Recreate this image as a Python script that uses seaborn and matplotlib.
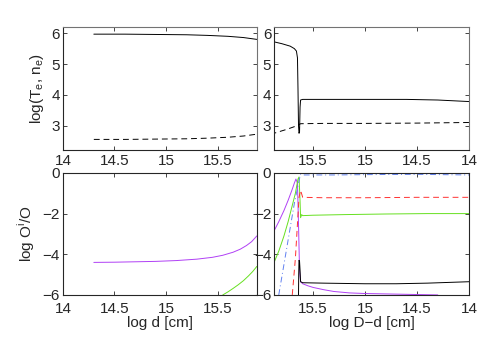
import numpy as np
import pandas as pd
import matplotlib
matplotlib.use("Agg")
import matplotlib.pyplot as plt
import seaborn as sns

# --- datos ---
# panel superior izquierdo: log d
d_top = [14.3, 14.6, 14.9, 15.2, 15.4, 15.6, 15.75, 15.88]
Te_left = [5.97, 5.97, 5.96, 5.95, 5.93, 5.9, 5.86, 5.8]
ne_left = [2.55, 2.55, 2.56, 2.57, 2.59, 2.62, 2.66, 2.72]

# panel superior derecho: log D-d
Dd_top = [15.875, 15.8, 15.72, 15.68, 15.66, 15.65, 15.645, 15.64, 15.635, 15.63,
          15.625, 15.62, 15.6, 15.4, 15.0, 14.6, 14.3, 14.0]
Te_right = [5.72, 5.66, 5.58, 5.5, 5.42, 5.2, 4.2, 3.0, 2.75, 2.8,
            3.6, 3.83, 3.85, 3.85, 3.85, 3.85, 3.83, 3.78]
Dd_ne = [15.875, 15.75, 15.65, 15.62, 15.4, 15.0, 14.5, 14.0]
ne_right = [2.75, 2.88, 3.0, 3.06, 3.07, 3.07, 3.08, 3.1]

# panel inferior izquierdo
d_bot = [14.3, 14.5, 14.7, 14.9, 15.1, 15.3, 15.45, 15.55, 15.65, 15.72, 15.78, 15.83, 15.88]
O_neutral = [0.0] * 13
O_purple = [-4.4, -4.39, -4.37, -4.35, -4.31, -4.24, -4.15, -4.05, -3.9, -3.75, -3.57, -3.38, -3.1]
d_green = [15.55, 15.6, 15.65, 15.7, 15.75, 15.8, 15.84, 15.88]
O_green = [-6.0, -5.85, -5.68, -5.5, -5.3, -5.06, -4.85, -4.6]

# panel inferior derecho
Dd_purple = [15.875, 15.83, 15.78, 15.74, 15.7, 15.68, 15.665, 15.65, 15.64, 15.63, 15.62,
             15.6, 15.55, 15.5, 15.4, 15.3, 15.15, 15.0, 14.6, 14.3]
O_purple_r = [-2.85, -2.4, -1.85, -1.35, -0.8, -0.5, -0.3, -0.5, -2.5, -4.8, -5.35,
              -5.45, -5.55, -5.63, -5.74, -5.83, -5.9, -5.93, -5.97, -6.0]
Dd_green = [15.875, 15.83, 15.78, 15.74, 15.7, 15.67, 15.645, 15.635, 15.625, 15.62, 15.61,
            15.6, 15.5, 15.2, 14.8, 14.4, 14.0]
O_green_r = [-4.4, -3.85, -3.1, -2.4, -1.6, -1.0, -0.3, -0.2, -1.4, -2.2, -2.05,
             -2.1, -2.08, -2.05, -2.02, -2.0, -2.0]
Dd_blue = [15.83, 15.75, 15.68, 15.64, 15.62, 15.6, 15.3, 14.9, 14.5, 14.0]
O_blue = [-6.0, -3.6, -1.5, -0.5, -0.05, -0.1, -0.1, -0.08, -0.07, -0.1]
Dd_red = [15.7, 15.67, 15.65, 15.635, 15.62, 15.6, 15.4, 15.0, 14.5, 14.0]
O_red = [-6.0, -4.2, -2.5, -1.2, -0.85, -1.2, -1.22, -1.22, -1.2, -1.2]
Dd_black = [15.64, 15.638, 15.635, 15.63, 15.625, 15.62, 15.6, 15.4, 15.0, 14.7, 14.4, 14.0]
O_black = [-6.0, -5.0, -4.3, -4.35, -4.8, -5.35, -5.4, -5.42, -5.45, -5.45, -5.42, -5.35]
Dd_dot = [15.875, 15.4, 14.9, 14.4, 14.0]
O_dot = [0.0, 0.0, 0.0, 0.0, 0.0]

sns.set_style("ticks")
plt.rcParams["font.family"] = ["Liberation Sans", "DejaVu Sans"]
plt.rcParams["font.size"] = 10
plt.rcParams["xtick.direction"] = "in"
plt.rcParams["ytick.direction"] = "in"
plt.rcParams["xtick.top"] = True
plt.rcParams["ytick.right"] = True
plt.rcParams["axes.linewidth"] = 0.8

fig = plt.figure(figsize=(4.8, 3.61), dpi=100)
ax1 = fig.add_axes([0.131, 0.584, 0.404, 0.341])
ax2 = fig.add_axes([0.571, 0.584, 0.406, 0.341])
ax3 = fig.add_axes([0.131, 0.183, 0.404, 0.338])
ax4 = fig.add_axes([0.571, 0.183, 0.406, 0.338])

purple = "#b040f5"
green = "#66e020"
blue = "#6080f0"
red = "#ff3030"
lw = 0.7

sns.lineplot(x=d_top, y=Te_left, ax=ax1, color="k", lw=lw)
sns.lineplot(x=d_top, y=ne_left, ax=ax1, color="k", lw=lw, linestyle=(0, (6, 4)))

sns.lineplot(x=Dd_top, y=Te_right, ax=ax2, color="k", lw=lw, sort=False)
sns.lineplot(x=Dd_ne, y=ne_right, ax=ax2, color="k", lw=lw, linestyle=(0, (6, 4)))

sns.lineplot(x=d_bot, y=O_neutral, ax=ax3, color="0.6", lw=lw, linestyle=":")
sns.lineplot(x=d_bot, y=O_purple, ax=ax3, color=purple, lw=lw)
sns.lineplot(x=d_green, y=O_green, ax=ax3, color=green, lw=lw)

sns.lineplot(x=Dd_dot, y=O_dot, ax=ax4, color="0.6", lw=lw, linestyle=":")
sns.lineplot(x=Dd_purple, y=O_purple_r, ax=ax4, color=purple, lw=lw, sort=False)
sns.lineplot(x=Dd_green, y=O_green_r, ax=ax4, color=green, lw=lw, sort=False)
sns.lineplot(x=Dd_blue, y=O_blue, ax=ax4, color=blue, lw=lw, sort=False, linestyle=(0, (6, 3, 1, 3)))
sns.lineplot(x=Dd_red, y=O_red, ax=ax4, color=red, lw=lw, sort=False, linestyle=(0, (6, 4)))
sns.lineplot(x=Dd_black, y=O_black, ax=ax4, color="k", lw=lw, sort=False)

for ax in (ax1, ax3):
    ax.set_xlim(14, 15.88)
for ax in (ax2, ax4):
    ax.set_xlim(15.875, 14)
for ax in (ax1, ax2, ax3, ax4):
    ax.set_xticks([14, 14.5, 15, 15.5])
    ax.set_xticklabels(["14", "14.5", "15", "15.5"])
    ax.tick_params(length=3, width=0.6, labelsize=11, pad=2)
    ax.tick_params(axis="x", pad=3)
for ax in (ax1, ax2):
    ax.set_ylim(2.2, 6.2)
    ax.set_yticks([3, 4, 5, 6])
    for s in ("top", "right"):
        ax.spines[s].set_color("0.45")
for ax in (ax3, ax4):
    ax.set_ylim(-6, 0)
    ax.set_yticks([-6, -4, -2, 0])
    ax.set_yticklabels(["\u22126", "\u22124", "\u22122", "0"])
    ax.tick_params(axis="x", pad=5)

ax1.set_ylabel("log(T$_\\mathregular{e}$, n$_\\mathregular{e}$)", fontsize=11)
ax3.set_ylabel("log O$^\\mathregular{i}$/O", fontsize=11)
ax3.set_xlabel("log d [cm]", fontsize=11, labelpad=0)
ax4.set_xlabel("log D\u2212d [cm]", fontsize=11, labelpad=0)

fig.savefig("out.png", dpi=100)
